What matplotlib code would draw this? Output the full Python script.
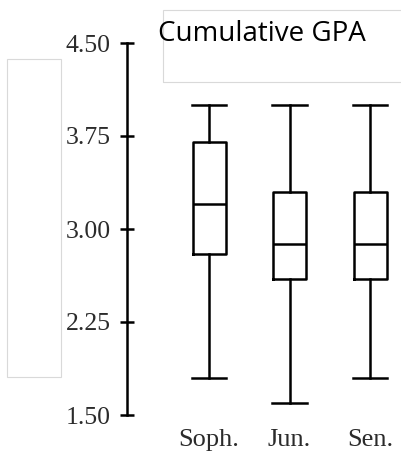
import matplotlib
matplotlib.use('Agg')
import matplotlib.pyplot as plt
from matplotlib.patches import Rectangle

# box plot summary values
classes = ['Soph.', 'Jun.', 'Sen.']
lows = [1.80, 1.60, 1.80]
q1s = [2.80, 2.60, 2.60]
medians = [3.20, 2.88, 2.88]
q3s = [3.70, 3.30, 3.30]
highs = [4.00, 4.00, 4.00]
yticks = [1.50, 2.25, 3.00, 3.75, 4.50]
title = 'Cumulative GPA'

fig = plt.figure(figsize=(4.01, 4.53), dpi=100)
ax = fig.add_axes([127/401, 38/453, 274/401, 372/453])

stats = []
for lab, lo, a, m, b, hi in zip(classes, lows, q1s, medians, q3s, highs):
    stats.append({'label': lab, 'whislo': lo, 'q1': a, 'med': m, 'q3': b, 'whishi': hi, 'fliers': []})

lw = 1.8
ax.bxp(stats, positions=[1, 2, 3], widths=0.41, showfliers=False,
       boxprops=dict(color='black', linewidth=lw),
       whiskerprops=dict(color='black', linewidth=lw),
       capprops=dict(color='black', linewidth=lw),
       medianprops=dict(color='black', linewidth=lw),
       capwidths=0.43)

ax.set_xlim(-0.019, 3.385)
ax.set_ylim(1.5, 4.5)
ax.set_yticks(yticks)
ax.set_yticklabels([f'{v:.2f}' for v in yticks])
for s in ['top', 'right', 'bottom']:
    ax.spines[s].set_visible(False)
ax.spines['left'].set_linewidth(lw)
ax.tick_params(axis='y', direction='inout', length=9.4, width=lw, pad=7,
               labelsize=18.5, labelcolor='#2b2b2b')
ax.tick_params(axis='x', length=0, pad=10, labelsize=19, labelcolor='#2b2b2b')
for t in ax.get_xticklabels() + ax.get_yticklabels():
    t.set_fontfamily('Liberation Serif')

# light grey frames around the chart
fig.patches.append(Rectangle((7/401, 76/453), 54/401, 318/453, transform=fig.transFigure,
                             fill=False, edgecolor='#d9d9d9', linewidth=0.8))
fig.patches.append(Rectangle((163/401, 371/453), 0.6, 72/453, transform=fig.transFigure,
                             fill=False, edgecolor='#d9d9d9', linewidth=0.8))
fig.text(158/401, 412/453, title, fontsize=20, family='Open Sans', va='baseline', ha='left')

fig.savefig('out.png', dpi=100)
